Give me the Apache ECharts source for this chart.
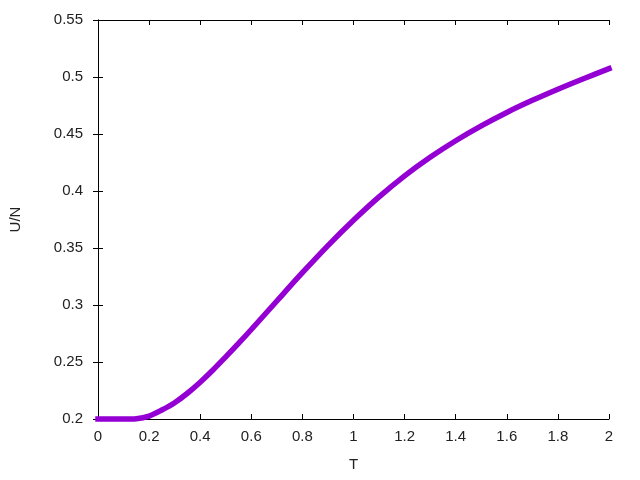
<!DOCTYPE html>
<html>
<head>
<meta charset="utf-8">
<script src="https://cdn.jsdelivr.net/npm/echarts@6/dist/echarts.min.js"></script>
<style>html,body{margin:0;padding:0;background:#fff}#c{width:640px;height:480px}</style>
</head>
<body>
<div id="c"></div>
<script>
const tValues = [0, 0.05, 0.1, 0.15, 0.2, 0.25, 0.3, 0.35, 0.4, 0.45, 0.5, 0.55, 0.6, 0.7, 0.8, 0.9, 1.0, 1.1, 1.2, 1.3, 1.4, 1.5, 1.6, 1.7, 1.8, 1.9, 2.0];
const uValues = [0.2, 0.2, 0.2, 0.2003, 0.2026, 0.2079, 0.2143, 0.2226, 0.2323, 0.2430, 0.2545, 0.2663, 0.2785, 0.3035, 0.3283, 0.3521, 0.3743, 0.3948, 0.4133, 0.4296, 0.4441, 0.4571, 0.4689, 0.4795, 0.4893, 0.4985, 0.5073];
const xName = 'T';
const yName = 'U/N';

const fmt = v => String(Math.round(v * 1000) / 1000);
const font = 'Liberation Sans, Arial, sans-serif';
const chart = echarts.init(document.getElementById('c'), null, {renderer: 'canvas'});
const axisBase = {
  axisLine: {show: true, lineStyle: {color: '#000', width: 1}},
  axisTick: {show: true, inside: true, length: 5, lineStyle: {color: '#000'}},
  splitLine: {show: false}
};
chart.setOption({
  animation: false,
  grid: {left: 94, right: 31, top: 20, bottom: 61, containLabel: false},
  xAxis: [
    Object.assign({}, axisBase, {
      type: 'value', min: 0, max: 2, interval: 0.2, position: 'bottom',
      name: xName, nameLocation: 'middle', nameGap: 38,
      nameTextStyle: {color: '#222', fontSize: 15, fontFamily: font},
      axisLabel: {color: '#222', fontSize: 15, fontFamily: font, margin: 10, formatter: fmt}
    }),
    Object.assign({}, axisBase, {
      type: 'value', min: 0, max: 2, interval: 0.2, position: 'top',
      axisLabel: {show: false}
    })
  ],
  yAxis: [
    Object.assign({}, axisBase, {
      type: 'value', min: 0.2, max: 0.55, interval: 0.05, position: 'left',
      name: yName, nameLocation: 'middle', nameGap: 75, nameRotate: 90,
      nameTextStyle: {color: '#222', fontSize: 15, fontFamily: font},
      axisLabel: {color: '#222', fontSize: 15, fontFamily: font, margin: 15, formatter: fmt}
    }),
    Object.assign({}, axisBase, {
      type: 'value', min: 0.2, max: 0.55, interval: 0.05, position: 'right',
      axisLabel: {show: false}
    })
  ],
  series: [{
    type: 'line',
    xAxisIndex: 0, yAxisIndex: 0,
    data: tValues.map((t, i) => [t, uValues[i]]),
    smooth: 0.3,
    symbol: 'none',
    clip: false,
    lineStyle: {color: '#9400d3', width: 5.5, cap: 'square'}
  }]
});
</script>
</body>
</html>
